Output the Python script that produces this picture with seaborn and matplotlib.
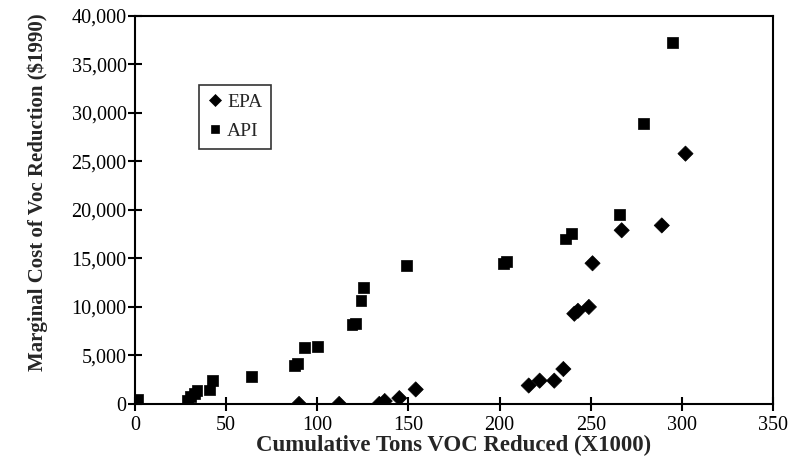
import pandas as pd
import matplotlib
matplotlib.use('Agg')
import matplotlib.pyplot as plt
import matplotlib.ticker as mticker
import seaborn as sns

# EPA 추정치 (다이아몬드)
epa_x = [90, 112, 134, 137, 145, 154, 216, 222, 230, 235, 241, 243, 249, 251, 267, 289, 302]
epa_y = [0, 0, 0, 300, 600, 1500, 1900, 2400, 2400, 3600, 9300, 9600, 10000, 14500, 17900, 18400, 25800]

# API 추정치 (사각형)
api_x = [1.5, 29, 30.5, 32.5, 34, 41, 42.5, 64, 87.5, 89, 93, 100, 119, 121, 124, 125.5, 149,
         202, 204, 236, 239.5, 266, 279, 295]
api_y = [500, 400, 750, 1100, 1400, 1450, 2450, 2800, 4000, 4200, 5850, 5950, 8200, 8300, 10700, 12000, 14300,
         14500, 14700, 17000, 17600, 19500, 28900, 37250]

df = pd.DataFrame({
    'x': epa_x + api_x,
    'y': epa_y + api_y,
    'src': ['EPA'] * len(epa_x) + ['API'] * len(api_x),
})

sns.set_style('ticks')
plt.rcParams['font.family'] = ['Liberation Serif', 'DejaVu Serif']

fig = plt.figure(figsize=(7.89, 4.67), dpi=100)
ax = fig.add_axes([0.1711, 0.135, 0.8086, 0.831])

sns.scatterplot(data=df, x='x', y='y', style='src', markers={'EPA': 'D', 'API': 's'},
                color='black', s=60, edgecolor='black', linewidth=0.5, ax=ax)

ax.set_xlim(0, 350)
ax.set_ylim(0, 40000)
ax.set_xticks(range(0, 351, 50))
ax.set_yticks(range(0, 40001, 5000))
ax.yaxis.set_major_formatter(mticker.FuncFormatter(lambda v, p: f'{int(v):,}'))
ax.tick_params(direction='inout', length=10, width=1.5, labelsize=14.5, colors='black')
ax.tick_params(axis='y', pad=1)

for s in ax.spines.values():
    s.set_visible(True)
    s.set_linewidth(1.5)
    s.set_color('black')

ax.set_xlabel('Cumulative Tons VOC Reduced (X1000)', fontsize=16.5, fontweight='bold', labelpad=0)
ax.set_ylabel('Marginal Cost of Voc Reduction ($1990)', fontsize=15, fontweight='bold')
ax.yaxis.set_label_coords(-0.137, 0.546)

leg = ax.legend(loc='upper left', bbox_to_anchor=(0.085, 0.848), frameon=True, fancybox=False,
                edgecolor='black', fontsize=14, handletextpad=0.2, borderpad=0.45, labelspacing=0.6,
                handlelength=0.8, markerscale=0.75)
leg.get_frame().set_linewidth(1.2)
leg.set_title(None)

fig.savefig('out.png', dpi=100)
